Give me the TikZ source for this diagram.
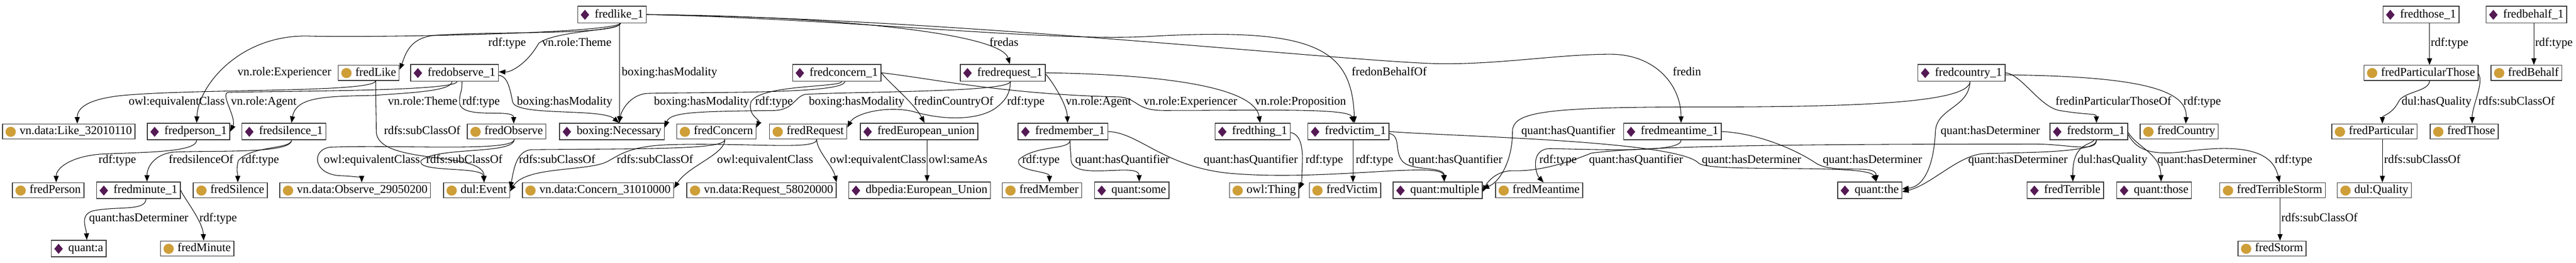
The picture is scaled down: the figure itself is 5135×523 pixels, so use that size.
\documentclass[tikz,border=0pt]{standalone}
\usepackage{fontspec}
\setmainfont{Liberation Serif}
\usetikzlibrary{arrows.meta}
\definecolor{fredpurple}{RGB}{84,26,84}
\definecolor{fredgold}{RGB}{206,158,56}
\newcommand{\indmark}{\tikz[x=1pt,y=1pt,baseline=-5.5pt]\fill[fredpurple] (0,10)--(8.5,0)--(0,-10)--(-8.5,0)--cycle;}
\newcommand{\clsmark}{\tikz[x=1pt,y=1pt,baseline=-5.5pt]\fill[fredgold] (0,0) ellipse [x radius=10.3pt, y radius=10pt];}
\tikzset{
	fredbox/.style={draw=black!80, line width=1.5pt, fill=white, rectangle, inner xsep=6pt, inner ysep=0pt, text height=17pt, text depth=5pt, font=\fontsize{23.6pt}{28pt}\selectfont},
	ind/.style={fredbox, minimum height=33pt},
	cls/.style={fredbox, minimum height=30pt},
	rel/.style={draw, line width=1.1pt, -{Triangle[length=13pt,width=10pt]}},
	lbl/.style={anchor=west, inner sep=0pt, text height=16.5pt, text depth=5pt, font=\fontsize{23.6pt}{28pt}\selectfont}
}
\begin{document}
\begin{tikzpicture}[x=1pt,y=-1pt]
	\fill[white] (0,0) rectangle (5135,523);
	\useasboundingbox (0,0) rectangle (5135,523);

	\foreach \nname/\xx/\yy/\ttext in {like1/1220/29/fredlike\_1, those1/4826/29/fredthose\_1, behalf1/5036/29/fredbehalf\_1,
		observe1/906/145/fredobserve\_1, concern1/1668/145/fredconcern\_1, request1/1999/145/fredrequest\_1, country1/3910/145/fredcountry\_1,
		person1/376/262/fredperson\_1, silence1/566/262/fredsilence\_1, Necessary/1220/262/boxing:Necessary, EuropeanUnion1/1832/262/fredEuropean\_union,
		member1/2119/262/fredmember\_1, thing1/2497/262/fredthing\_1, victim1/2688/262/fredvictim\_1, meantime1/3334/262/fredmeantime\_1, storm1/4164/262/fredstorm\_1,
		minute1/276/379/fredminute\_1, EuropeanUnion/1833/379/dbpedia:European\_Union, some/2256/379/quant:some, multiple/2866/379/quant:multiple,
		the/3727/379/quant:the, Terrible/4117/379/fredTerrible, thosequant/4294/379/quant:those, a/157/495/quant:a}{
		\node[ind] (\nname) at (\xx,\yy) {\indmark\hspace{11pt}\ttext};
	};
	\foreach \nname/\xx/\yy/\ttext in {Like/735/145/fredLike, ParticularThose/4826/145/fredParticularThose, Behalf/5036/145/fredBehalf,
		LikeVn/137/262/vn.data:Like\_32010110, Observe/1010/262/fredObserve, Concern/1428/262/fredConcern, Request/1611/262/fredRequest,
		Country/4344/262/fredCountry, Particular/4733/262/fredParticular, Those/4912/262/fredThose,
		Person/96/379/fredPerson, Silence/459/379/fredSilence, ObserveVn/708/379/vn.data:Observe\_29050200, Event/950/379/dul:Event,
		ConcernVn/1192/379/vn.data:Concern\_31010000, RequestVn/1518/379/vn.data:Request\_58020000, Member/2077/379/fredMember,
		Thing/2520/379/owl:Thing, Victim/2681/379/fredVictim, Meantime/3068/379/fredMeantime, TerribleStorm/4530/379/fredTerribleStorm,
		Quality/4733/379/dul:Quality, Minute/393/495/fredMinute, Storm/4529/495/fredStorm}{
		\node[cls] (\nname) at (\xx,\yy) {\clsmark\hspace{7.5pt}\ttext};
	};

	\draw[rel] ([xshift=17pt]like1.south) .. controls (1232,70) and (1000,62) .. (870,70) .. controls (815,74) and (808,110) .. ([yshift=6pt]Like.east) node[lbl] at (973,86) {rdf:type};
	\draw[rel] ([xshift=17pt]like1.south) .. controls (1235,62) and (1110,60) .. (1074,86) .. controls (1052,125) and (1020,144) .. ([yshift=2pt]observe1.east) node[lbl] at (1080,86) {vn.role:Theme};
	\draw[rel] ([xshift=15pt]like1.south) -- ([xshift=15pt]Necessary.north) node[lbl] at (1239,145) {boxing:hasModality};
	\draw[rel] ([xshift=17pt]like1.south) .. controls (1225,65) and (800,75) .. (620,72) .. controls (480,66) and (395,170) .. ([xshift=16pt]person1.north) node[lbl] at (473,145) {vn.role:Experiencer};
	\draw[rel] (like1.east) .. controls (1650,32) and (1995,65) .. ([xshift=14pt]request1.north) node[lbl] at (1972,86) {fredas};
	\draw[rel] (like1.east) .. controls (1700,38) and (2100,85) .. (2300,72) .. controls (2620,55) and (2695,95) .. ([xshift=12pt]victim1.north) node[lbl] at (2694,145) {fredonBehalfOf};
	\draw[rel] (like1.east) .. controls (1900,36) and (2720,127) .. (2880,127) .. controls (3000,127) and (3110,108) .. (3210,108) .. controls (3300,108) and (3351,170) .. ([xshift=17pt]meantime1.north) node[lbl] at (3334,145) {fredin};

	\draw[rel] ([xshift=15pt]observe1.south) .. controls +(0,25) and +(0,-20) .. (916,203) .. controls (916,240) and (1024,215) .. ([xshift=14pt]Observe.north) node[lbl] at (921,203) {rdf:type};
	\draw[rel] ([yshift=-5pt]observe1.east) .. controls (1012,152) and (1016,175) .. (1022,203) .. controls (1028,232) and (1200,215) .. ([xshift=14pt]Necessary.north) node[lbl] at (1030,203) {boxing:hasModality};
	\draw[rel] ([xshift=5pt]observe1.south) .. controls +(0,20) and (560,181) .. (455,184) .. controls (438,186) and (472,235) .. (person1.east) node[lbl] at (460,203) {vn.role:Agent};
	\draw[rel] ([xshift=-5pt]observe1.south) .. controls +(0,20) and (810,185) .. (745,190) .. controls (650,192) and (590,192) .. ([xshift=15pt]silence1.north) node[lbl] at (773,203) {vn.role:Theme};

	\draw[rel] ([xshift=14pt]Like.south) .. controls (747,185) and (400,176) .. (245,190) .. controls (175,197) and (154,215) .. ([xshift=17pt]LikeVn.north) node[lbl] at (256,203) {owl:equivalentClass};
	\draw[rel] ([xshift=14pt]Like.south) .. controls +(0,50) and +(0,-40) .. (750,262) .. controls (752,330) and (965,300) .. ([xshift=15pt]Event.north) node[lbl] at (765,262) {rdfs:subClassOf};
	\draw[rel] ([xshift=15pt]Observe.south) .. controls +(0,25) and (800,288) .. (660,293) .. controls (620,296) and (622,348) .. (680,350) .. controls (710,351) and (721,355) .. ([xshift=13pt]ObserveVn.north) node[lbl] at (645,319) {owl:equivalentClass};
	\draw[rel] ([xshift=15pt]Observe.south) .. controls +(0,30) and (875,292) .. (840,319) .. controls (825,345) and (962,330) .. ([xshift=15pt]Event.north) node[lbl] at (849,319) {rdfs:subClassOf};

	\draw[rel] ([xshift=16pt]concern1.south) .. controls +(0,25) and (1420,183) .. (1290,186) .. controls (1260,188) and (1240,215) .. ([xshift=14pt]Necessary.north) node[lbl] at (1303,203) {boxing:hasModality};
	\draw[rel] ([xshift=10pt]concern1.south) .. controls +(0,12) and (1515,168) .. (1497,203) .. controls (1490,230) and (1515,238) .. ([yshift=8pt]Concern.east) node[lbl] at (1505,203) {rdf:type};
	\draw[rel] (concern1.east) .. controls (1772,165) and (1822,205) .. ([xshift=11pt]EuropeanUnion1.north) node[lbl] at (1821,203) {fredinCountryOf};
	\draw[rel] (concern1.east) .. controls (1850,155) and (2000,188) .. (2230,193) .. controls (2268,195) and (2262,220) .. (2320,220) .. controls (2520,220) and (2690,215) .. ([xshift=10pt]victim1.north) node[lbl] at (2279,203) {vn.role:Experiencer};

	\draw[rel] ([xshift=15pt]request1.south) .. controls +(0,22) and (1700,182) .. (1605,188) .. controls (1585,192) and (1582,218) .. (1545,220) .. controls (1400,222) and (1336,222) .. ([yshift=8pt]Necessary.east) node[lbl] at (1612,203) {boxing:hasModality};
	\draw[rel] ([xshift=15pt]request1.south) .. controls (2014,185) and (2005,200) .. (1985,215) .. controls (1950,240) and (1880,240) .. (1820,222) .. controls (1770,210) and (1705,225) .. ([yshift=8pt]Request.east) node[lbl] at (2007,203) {rdf:type};
	\draw[rel] ([yshift=-3pt]request1.east) .. controls (2100,165) and (2127,210) .. ([xshift=9pt]member1.north) node[lbl] at (2124,203) {vn.role:Agent};
	\draw[rel] (request1.east) .. controls (2300,148) and (2500,170) .. ([xshift=15pt]thing1.north) node[lbl] at (2501,203) {vn.role:Proposition};

	\draw[rel] ([xshift=17pt]country1.south) .. controls (3925,205) and (3700,213) .. (3400,213) .. controls (3080,213) and (3015,222) .. (3015,262) .. controls (3015,320) and (2990,362) .. ([yshift=3pt]multiple.east) node[lbl] at (3032,262) {quant:hasQuantifier};
	\draw[rel] ([xshift=17pt]country1.south) .. controls (3925,215) and (3860,215) .. (3858,262) .. controls (3855,330) and (3835,372) .. ([yshift=3pt]the.east) node[lbl] at (3868,262) {quant:hasDeterminer};
	\draw[rel] (country1.east) .. controls (4030,148) and (4065,212) .. (4105,220) .. controls (4165,230) and (4179,225) .. ([xshift=15pt]storm1.north) node[lbl] at (4097,203) {fredinParticularThoseOf};
	\draw[rel] ([yshift=-4pt]country1.east) .. controls (4250,152) and (4362,175) .. ([xshift=13pt]Country.north) node[lbl] at (4352,203) {rdf:type};

	\draw[rel] ([xshift=15pt]storm1.south) .. controls +(0,25) and (4050,303) .. (3955,306) .. controls (3905,308) and (3850,368) .. ([yshift=-3pt]the.east) node[lbl] at (3923,319) {quant:hasDeterminer};
	\draw[rel] ([xshift=10pt]storm1.south) .. controls (4166,290) and (4131,285) .. ([xshift=15pt]Terrible.north) node[lbl] at (4141,319) {dul:hasQuality};
	\draw[rel] ([yshift=-2pt]storm1.east) .. controls (4262,295) and (4306,305) .. ([xshift=14pt]thosequant.north) node[lbl] at (4300,319) {quant:hasDeterminer};
	\draw[rel] ([yshift=-6pt]storm1.east) .. controls (4262,305) and (4300,310) .. (4370,300) .. controls (4470,288) and (4530,300) .. ([xshift=14pt]TerribleStorm.north) node[lbl] at (4534,319) {rdf:type};
	\draw[rel] ([xshift=15pt]storm1.south) .. controls +(0,25) and (4120,287) .. (4060,287) .. controls (3700,287) and (3300,288) .. (3172,305) .. controls (3130,322) and (3070,342) .. (3015,340) .. controls (2985,340) and (2966,360) .. ([yshift=-3pt]multiple.east) node[lbl] at (3167,319) {quant:hasQuantifier};

	\draw[rel] ([xshift=17pt]meantime1.south) .. controls +(0,25) and (3200,298) .. (3090,296) .. controls (3050,296) and (3060,345) .. ([xshift=9pt]Meantime.north) node[lbl] at (3068,319) {rdf:type};
	\draw[rel] (meantime1.east) .. controls (3500,265) and (3575,295) .. (3620,325) .. controls (3655,348) and (3740,325) .. ([xshift=13pt]the.north) node[lbl] at (3633,319) {quant:hasDeterminer};
	\draw[rel] (victim1.east) .. controls (2900,272) and (3345,280) .. (3386,325) .. controls (3410,345) and (3725,325) .. ([xshift=13pt]the.north) node[lbl] at (3392,319) {quant:hasDeterminer};
	\draw[rel] ([xshift=9pt]victim1.south) .. controls +(0,30) and +(0,-30) .. ([xshift=16pt]Victim.north) node[lbl] at (2702,319) {rdf:type};
	\draw[rel] ([yshift=-4pt]victim1.east) .. controls (2792,270) and (2780,300) .. (2794,319) .. controls (2808,342) and (2879,330) .. ([xshift=13pt]multiple.north) node[lbl] at (2807,319) {quant:hasQuantifier};

	\draw[rel] ([xshift=14pt]member1.south) .. controls +(0,20) and (2065,288) .. (2031,318) .. controls (2022,342) and (2092,340) .. ([xshift=15pt]Member.north) node[lbl] at (2037,319) {rdf:type};
	\draw[rel] ([xshift=14pt]member1.south) .. controls +(0,22) and +(0,-18) .. (2135,319) .. controls (2138,362) and (2270,322) .. ([xshift=15pt]some.north) node[lbl] at (2143,319) {quant:hasQuantifier};
	\draw[rel] (member1.east) .. controls (2270,264) and (2320,332) .. (2450,345) .. controls (2640,362) and (2875,320) .. ([xshift=13pt]multiple.north) node[lbl] at (2399,319) {quant:hasQuantifier};
	\draw[rel] ([yshift=-2pt]thing1.east) .. controls (2595,268) and (2597,300) .. (2596,325) .. controls (2595,350) and (2595,365) .. ([yshift=3pt]Thing.east) node[lbl] at (2602,319) {rdf:type};
	\draw[rel] ([xshift=16pt]EuropeanUnion1.south) -- ([xshift=15pt]EuropeanUnion.north) node[lbl] at (1851,319) {owl:sameAs};

	\draw[rel] ([xshift=15pt]silence1.south) .. controls +(0,18) and (500,290) .. (475,320) .. controls (470,340) and (474,345) .. ([xshift=15pt]Silence.north) node[lbl] at (481,319) {rdf:type};
	\draw[rel] ([xshift=15pt]silence1.south) .. controls +(0,28) and (420,299) .. (345,303) .. controls (305,308) and (293,335) .. ([xshift=17pt]minute1.north) node[lbl] at (336,319) {fredsilenceOf};
	\draw[rel] ([xshift=16pt]person1.south) .. controls +(0,25) and (280,303) .. (200,307) .. controls (140,312) and (112,335) .. ([xshift=16pt]Person.north) node[lbl] at (196,319) {rdf:type};
	\draw[rel] ([xshift=15pt]minute1.south) .. controls +(0,25) and (230,410) .. (185,420) .. controls (158,428) and (172,455) .. ([xshift=16pt]a.north) node[lbl] at (177,435) {quant:hasDeterminer};
	\draw[rel] (minute1.east) .. controls (365,392) and (404,440) .. ([xshift=13pt]Minute.north) node[lbl] at (397,435) {rdf:type};

	\draw[rel] ([xshift=17pt]Concern.south) .. controls +(0,20) and (1300,296) .. (1060,298) .. controls (1028,300) and (1024,340) .. ([yshift=4pt]Event.east) node[lbl] at (1034,319) {rdfs:subClassOf};
	\draw[rel] ([xshift=17pt]Concern.south) .. controls +(0,30) and (1372,330) .. ([yshift=4pt]ConcernVn.east) node[lbl] at (1429,319) {owl:equivalentClass};
	\draw[rel] ([xshift=17pt]Request.south) .. controls +(0,22) and (1500,284) .. (1340,288) .. controls (1262,290) and (1240,305) .. (1212,321) .. controls (1175,342) and (1048,330) .. ([yshift=-2pt]Event.east) node[lbl] at (1229,319) {rdfs:subClassOf};
	\draw[rel] ([xshift=17pt]Request.south) .. controls (1628,300) and (1660,330) .. (RequestVn.north east) node[lbl] at (1654,319) {owl:equivalentClass};

	\draw[rel] ([xshift=17pt]ParticularThose.south) .. controls +(0,22) and (4790,182) .. (4781,203) .. controls (4768,228) and (4749,230) .. ([xshift=16pt]Particular.north) node[lbl] at (4787,203) {dul:hasQuality};
	\draw[rel] ([yshift=-2pt]ParticularThose.east) .. controls (4952,165) and (4928,210) .. ([xshift=16pt]Those.north) node[lbl] at (4940,203) {rdfs:subClassOf};
	\draw[rel] ([xshift=16pt]Particular.south) -- ([xshift=16pt]Quality.north) node[lbl] at (4752,319) {rdfs:subClassOf};
	\draw[rel] ([xshift=15pt]TerribleStorm.south) -- ([xshift=16pt]Storm.north) node[lbl] at (4547,435) {rdfs:subClassOf};
	\draw[rel] ([xshift=17pt]those1.south) -- ([xshift=17pt]ParticularThose.north) node[lbl] at (4845,86) {rdf:type};
	\draw[rel] ([xshift=15pt]behalf1.south) -- ([xshift=15pt]Behalf.north) node[lbl] at (5053,86) {rdf:type};
\end{tikzpicture}
\end{document}
